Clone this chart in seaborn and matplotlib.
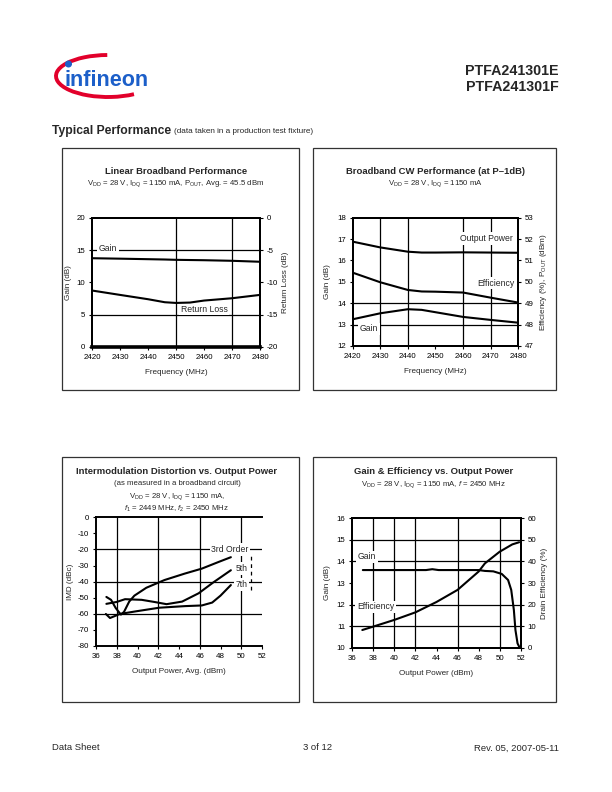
import matplotlib
matplotlib.use("Agg")
import numpy as np
import pandas as pd
import matplotlib.pyplot as plt
import seaborn as sns
from matplotlib.patches import Rectangle, Arc, Circle

# ---------------- data ----------------
# Linear Broadband Performance
lb_freq = [2420, 2430, 2440, 2446, 2450, 2455, 2460, 2470, 2480]
lb_gain = [13.75, 13.68, 13.6, 13.55, 13.5, 13.47, 13.44, 13.35, 13.2]
lb_rl = [-11.27, -11.95, -12.62, -13.09, -13.2, -13.14, -12.83, -12.47, -11.95]

# Broadband CW Performance
cw_freq = [2420, 2430, 2440, 2445, 2450, 2460, 2470, 2480]
cw_gain = [13.25, 13.53, 13.72, 13.69, 13.58, 13.36, 13.22, 13.09]
cw_pout = [51.88, 51.61, 51.41, 51.37, 51.37, 51.38, 51.37, 51.36]
cw_eff = [50.43, 49.98, 49.62, 49.55, 49.54, 49.5, 49.26, 49.03]

# IMD vs output power
imd3_p = [37.0, 37.45, 37.9, 38.4, 38.7, 39.2, 39.7, 40.85, 42.6, 44.55, 46.2, 47.8, 49.0]
imd3 = [-49.5, -51.3, -56.4, -60.5, -58.8, -52.4, -48.7, -43.8, -39.0, -35.0, -31.9, -27.8, -24.8]
imd5_p = [37.0, 38.0, 38.8, 40.4, 41.6, 42.8, 44.3, 45.9, 47.3, 49.0]
imd5 = [-53.8, -52.6, -50.9, -51.3, -52.6, -54.0, -52.4, -47.2, -40.5, -32.9]
imd7_p = [36.95, 37.35, 38.3, 39.8, 42.1, 44.6, 46.2, 47.2, 48.0, 49.0]
imd7 = [-60.1, -62.6, -60.1, -58.5, -56.2, -55.2, -54.8, -53.0, -48.7, -42.1]

# Gain & efficiency vs output power
ge_p_gain = [37.0, 40.0, 43.0, 43.6, 44.2, 46.0, 48.0, 48.6, 49.4, 50.2, 50.8, 51.1, 51.35, 51.5, 51.7, 51.85, 51.95]
ge_gain = [13.6, 13.6, 13.6, 13.64, 13.6, 13.6, 13.6, 13.56, 13.54, 13.42, 13.14, 12.68, 11.75, 10.82, 10.2, 10.05, 10.0]
ge_p_eff = [36.95, 38.0, 40.0, 42.0, 44.0, 46.0, 48.0, 48.6, 50.0, 51.2, 51.85]
ge_eff = [8.2, 9.8, 12.9, 16.4, 21.2, 26.8, 35.3, 39.1, 44.5, 47.9, 48.9]

# ---------------- style ----------------
sns.set_style("white")
plt.rcParams['font.family'] = ['Liberation Sans', 'DejaVu Sans']
plt.rcParams['mathtext.fontset'] = 'custom'
plt.rcParams['mathtext.rm'] = 'Liberation Sans'
plt.rcParams['mathtext.it'] = 'Liberation Sans:italic'
plt.rcParams['mathtext.bf'] = 'Liberation Sans:bold'
plt.rcParams['axes.unicode_minus'] = False

TICK = 5.7
ALAB = 5.9
ANN = 6.2
TITLE = 6.8
SUB = 5.6
LW = 1.5

fig = plt.figure(figsize=(6.12, 7.92), dpi=100)

def fax(l, t, r, b):
    return fig.add_axes([l / 612, 1 - b / 792, (r - l) / 612, (b - t) / 792])

def style(ax, xt, yt, xlim, ylim, xgrid, ygrid):
    ax.set_xlim(xlim)
    ax.set_ylim(ylim)
    ax.set_xticks(xt)
    ax.set_yticks(yt)
    for v in xgrid:
        ax.axvline(v, color='black', lw=0.9, zorder=0.5)
    for v in ygrid:
        ax.axhline(v, color='black', lw=0.9, zorder=0.5)
    ax.tick_params(bottom=True, left=True, length=2.5, width=0.8, labelsize=TICK,
                   pad=2.5, color='black', labelcolor='black', direction='out')
    for s in ax.spines.values():
        s.set_color('black')
        s.set_linewidth(1.4)
    ax.set_xlabel('')
    ax.set_ylabel('')

def right_style(ax2, yt, ylim):
    ax2.set_ylim(ylim)
    ax2.set_yticks(yt)
    ax2.tick_params(right=True, length=2.5, width=0.8, labelsize=TICK, pad=2.5,
                    color='black', labelcolor='black', direction='out')
    ax2.grid(False)
    for s in ax2.spines.values():
        s.set_color('black')
        s.set_linewidth(1.4)

def label(ax, x, y, s):
    ax.text(x, y, s, ha='center', va='center', fontsize=ANN, zorder=1.5,
            bbox=dict(fc='white', ec='none', pad=1.2))

# ---------------- page furniture ----------------
page = fig.add_axes([0, 0, 1, 1], zorder=-5)
page.set_xlim(0, 612)
page.set_ylim(0, 792)
page.axis('off')
Y = lambda y: 792 - y

for (l, t, r, b) in [(62, 148, 299, 390), (313, 148, 556, 390),
                     (62, 457, 299, 702), (313, 457, 556, 702)]:
    page.add_patch(Rectangle((l, Y(b)), r - l, b - t, fill=False, ec='#333333', lw=0.9))

# logo
page.add_patch(Arc((108, Y(76)), 104, 42, theta1=92, theta2=325, color='#e2002b', lw=2.8))
page.text(64, Y(86), 'infineon', fontsize=15.5, fontweight='bold', color='#1c5fc9',
          ha='left', va='baseline')
page.add_patch(Circle((68.5, Y(64)), 2.8, color='#1c5fc9'))

page.text(559, Y(71), 'PTFA241301E', fontsize=10.3, fontweight='bold', ha='right', va='center')
page.text(559, Y(87), 'PTFA241301F', fontsize=10.3, fontweight='bold', ha='right', va='center')
page.text(52, Y(131), 'Typical Performance', fontsize=8.7, fontweight='bold', ha='left', va='center')
page.text(174, Y(131.5), '(data taken in a production test fixture)', fontsize=5.9, ha='left', va='center')

page.text(52, Y(748), 'Data Sheet', fontsize=6.8, ha='left', va='center')
page.text(318, Y(748), '3 of 12', fontsize=6.8, ha='center', va='center')
page.text(559, Y(748), 'Rev. 05, 2007-05-11', fontsize=6.8, ha='right', va='center')

# titles
page.text(176, Y(171), 'Linear Broadband Performance', fontsize=TITLE, fontweight='bold', ha='center', va='center')
page.text(176, Y(184), r'V$_{\rm DD}$ = 28 V, I$_{\rm DQ}$ = 1150 mA, P$_{\rm OUT}$, Avg. = 45.5 dBm',
          fontsize=SUB, ha='center', va='center')
page.text(435, Y(171), 'Broadband CW Performance (at P\u20131dB)', fontsize=TITLE, fontweight='bold', ha='center', va='center')
page.text(435, Y(184), r'V$_{\rm DD}$ = 28 V, I$_{\rm DQ}$ = 1150 mA', fontsize=SUB, ha='center', va='center')
page.text(177, Y(471), 'Intermodulation Distortion vs. Output Power', fontsize=TITLE, fontweight='bold', ha='center', va='center')
page.text(177, Y(483.5), '(as measured in a broadband circuit)', fontsize=SUB, ha='center', va='center')
page.text(177, Y(496.5), r'V$_{\rm DD}$ = 28 V, I$_{\rm DQ}$ = 1150 mA,', fontsize=SUB, ha='center', va='center')
page.text(177, Y(509), r'$f_{\rm 1}$ = 2449 MHz, $f_{\rm 2}$ = 2450 MHz', fontsize=SUB, ha='center', va='center')
page.text(434, Y(471), 'Gain & Efficiency vs. Output Power', fontsize=TITLE, fontweight='bold', ha='center', va='center')
page.text(434, Y(484.5), r'V$_{\rm DD}$ = 28 V, I$_{\rm DQ}$ = 1150 mA, $f$ = 2450 MHz', fontsize=SUB, ha='center', va='center')

# ---------------- panel 1 ----------------
ax1 = fax(92, 218, 260, 346.7)
sns.lineplot(x=lb_freq, y=lb_gain, ax=ax1, color='black', lw=LW, estimator=None, sort=False)
style(ax1, [2420, 2430, 2440, 2450, 2460, 2470, 2480], [0, 5, 10, 15, 20],
      (2420, 2480), (0, 20), [2450, 2470], [5, 15])
ax1.spines['bottom'].set_linewidth(2.6)
label(ax1, 2425.7, 15.3, 'Gain')
label(ax1, 2460.1, 5.85, 'Return Loss')
ax1b = ax1.twinx()
sns.lineplot(x=lb_freq, y=lb_rl, ax=ax1b, color='black', lw=LW, estimator=None, sort=False)
right_style(ax1b, [-20, -15, -10, -5, 0], (-20, 0))
ax1.set_ylabel('Gain (dB)', fontsize=ALAB, labelpad=3)
ax1b.set_ylabel('Return Loss (dB)', fontsize=ALAB, labelpad=3)
ax1.set_xlabel('Frequency (MHz)', fontsize=ALAB, labelpad=6)

# ---------------- panel 2 ----------------
ax2 = fax(352.7, 217.7, 518.3, 346)
sns.lineplot(x=cw_freq, y=cw_gain, ax=ax2, color='black', lw=LW, estimator=None, sort=False)
style(ax2, [2420, 2430, 2440, 2450, 2460, 2470, 2480], [12, 13, 14, 15, 16, 17, 18],
      (2420, 2480), (12, 18), [2430, 2440, 2460, 2470], [13, 14])
label(ax2, 2468.6, 17.03, 'Output Power')
label(ax2, 2471.7, 14.93, 'Efficiency')
label(ax2, 2425.9, 12.8, 'Gain')
ax2b = ax2.twinx()
sns.lineplot(x=cw_freq, y=cw_pout, ax=ax2b, color='black', lw=LW, estimator=None, sort=False)
sns.lineplot(x=cw_freq, y=cw_eff, ax=ax2b, color='black', lw=LW, estimator=None, sort=False)
right_style(ax2b, [47, 48, 49, 50, 51, 52, 53], (47, 53))
ax2.set_ylabel('Gain (dB)', fontsize=ALAB, labelpad=4)
ax2b.set_ylabel(r'Efficiency (%), P$_{\rm OUT}$ (dBm)', fontsize=ALAB, labelpad=3)
ax2.set_xlabel('Frequency (MHz)', fontsize=ALAB, labelpad=6)

# ---------------- panel 3 ----------------
ax3 = fax(96, 517.3, 262, 646)
sns.lineplot(x=imd3_p, y=imd3, ax=ax3, color='black', lw=LW, estimator=None, sort=False)
sns.lineplot(x=imd5_p, y=imd5, ax=ax3, color='black', lw=LW, estimator=None, sort=False)
sns.lineplot(x=imd7_p, y=imd7, ax=ax3, color='black', lw=LW, estimator=None, sort=False)
style(ax3, [36, 38, 40, 42, 44, 46, 48, 50, 52], [-80, -70, -60, -50, -40, -30, -20, -10, 0],
      (36, 52), (-80, 0), [38, 42, 46, 50], [-20, -40, -60])
ax3.spines['right'].set_visible(False)
ax3.axvline(50.9, ymin=(80 - 45) / 80, ymax=(80 - 22.5) / 80, color='black', lw=0.9,
            ls=(0, (3, 3)), zorder=0.6)
label(ax3, 48.9, -20.0, '3rd Order')
label(ax3, 50.0, -31.9, '5th')
label(ax3, 50.0, -41.7, '7th')
ax3.set_ylabel('IMD (dBc)', fontsize=ALAB, labelpad=3)
ax3.set_xlabel('Output Power, Avg. (dBm)', fontsize=ALAB, labelpad=6)

# ---------------- panel 4 ----------------
ax4 = fax(352.3, 518.3, 520.7, 647.7)
sns.lineplot(x=ge_p_gain, y=ge_gain, ax=ax4, color='black', lw=LW, estimator=None, sort=False)
style(ax4, [36, 38, 40, 42, 44, 46, 48, 50, 52], [10, 11, 12, 13, 14, 15, 16],
      (36, 52), (10, 16), [38, 40, 42, 46, 50], [11, 12, 14, 15])
label(ax4, 37.4, 14.22, 'Gain')
label(ax4, 38.2, 11.9, 'Efficiency')
ax4b = ax4.twinx()
sns.lineplot(x=ge_p_eff, y=ge_eff, ax=ax4b, color='black', lw=LW, estimator=None, sort=False)
right_style(ax4b, [0, 10, 20, 30, 40, 50, 60], (0, 60))
ax4.set_ylabel('Gain (dB)', fontsize=ALAB, labelpad=4)
ax4b.set_ylabel('Drain Efficiency (%)', fontsize=ALAB, labelpad=3)
ax4.set_xlabel('Output Power (dBm)', fontsize=ALAB, labelpad=6)

fig.savefig('out.png', dpi=100)
